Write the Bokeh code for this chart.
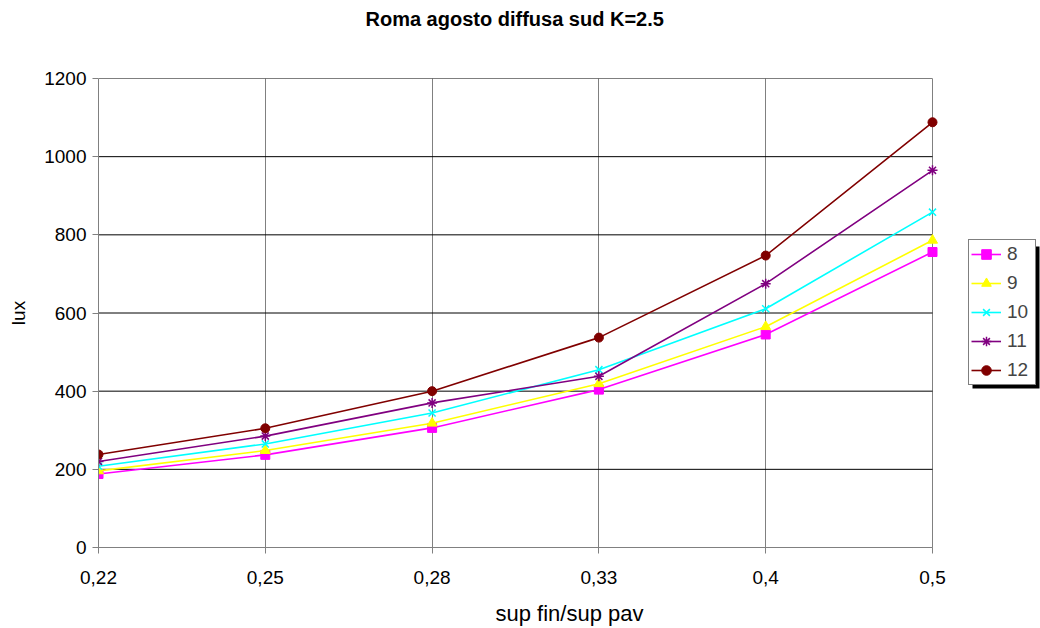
from bokeh.plotting import figure
from bokeh.models import (Range1d, Legend, LegendItem, FixedTicker, Title, LinearAxis,
                          BoxAnnotation, CustomLabelingPolicy)
from bokeh.embed import file_html
from bokeh.resources import INLINE

categories = ["0,22", "0,25", "0,28", "0,33", "0,4", "0,5"]
h8 = [188, 237, 306, 404, 545, 756]
h9 = [196, 248, 318, 419, 565, 786]
h10 = [208, 265, 344, 455, 611, 858]
h11 = [220, 285, 370, 438, 675, 965]
h12 = [238, 305, 400, 537, 747, 1088]
series_names = ["8", "9", "10", "11", "12"]
y_ticks = [0, 200, 400, 600, 800, 1000, 1200]

FONT = "Liberation Sans"
xs = list(range(len(categories)))
last = len(categories) - 1

# layout (pixels)
W, H = 1040, 628
LEFT, TOP, BOTTOM = 98, 78, 547
DATA_RIGHT = 932
x_end = last * (W - LEFT) / (DATA_RIGHT - LEFT)

p = figure(width=W, height=H, output_backend="svg", toolbar_location=None,
           x_range=Range1d(0, x_end), y_range=Range1d(0, 1200),
           min_border_left=LEFT, min_border_right=0, min_border_top=TOP,
           min_border_bottom=H - BOTTOM)
p.title = Title(text="Roma agosto diffusa sud K=2.5", align="left",
                text_font=FONT, text_font_size="20px", text_font_style="bold",
                text_color="black", offset=267)
p.outline_line_color = None
p.background_fill_color = "white"
p.border_fill_color = "white"

# invisible spacer above the plot area to lift the title (one tick, label hidden by policy)
top_spacer = LinearAxis(ticker=FixedTicker(ticks=[0]), axis_line_color=None,
                        major_tick_line_color=None, minor_tick_line_color=None,
                        major_tick_out=40, minor_tick_out=0, major_tick_in=0, minor_tick_in=0,
                        major_label_standoff=0, major_label_text_font_size="1px",
                        major_label_policy=CustomLabelingPolicy(
                            code="for (const i of indices) { indices.unset(i) }\nreturn indices"))
p.add_layout(top_spacer, "above")

xaxis = p.below[0]
yaxis = p.left[0]
xaxis.ticker = FixedTicker(ticks=xs)
xaxis.major_label_overrides = {i: c for i, c in enumerate(categories)}
xaxis.bounds = (0, last)
yaxis.ticker = FixedTicker(ticks=y_ticks)
for ax in (xaxis, yaxis):
    ax.axis_line_color = "#808080"
    ax.major_tick_line_color = "#808080"
    ax.major_tick_out = 6
    ax.major_tick_in = 0
    ax.minor_tick_line_color = None
    ax.major_label_text_font = FONT
    ax.major_label_text_font_size = "19px"
    ax.major_label_text_color = "black"
    ax.axis_label_text_font = FONT
    ax.axis_label_text_font_style = "normal"
    ax.axis_label_text_color = "black"
xaxis.axis_label_text_font_size = "22px"
yaxis.axis_label_text_font_size = "19px"
xaxis.major_label_standoff = 17
yaxis.major_label_standoff = 6
xaxis.axis_label = "sup fin/sup pav"
yaxis.axis_label = "lux"
xaxis.axis_label_standoff = 14
yaxis.axis_label_standoff = 12

p.xgrid.ticker = FixedTicker(ticks=xs)
p.xgrid.grid_line_color = "#808080"
p.ygrid.grid_line_color = None
# horizontal gridlines limited to the category span
p.segment(x0=[0] * len(y_ticks), x1=[last] * len(y_ticks), y0=y_ticks, y1=y_ticks,
          line_color="black", line_width=1)

colors = ["#FF00FF", "#FFFF00", "#00FFFF", "#800080", "#800000"]
markers = ["square", "triangle", "x", "asterisk", "circle"]
sizes = [9, 10, 10, 10, 9]
data = [h8, h9, h10, h11, h12]
items = []
for name, ys, c, m, s in zip(series_names, data, colors, markers, sizes):
    l = p.line(xs, ys, line_color=c, line_width=1.6)
    if m in ("x", "asterisk"):
        sc = p.scatter(xs, ys, marker=m, size=s, line_color=c, line_width=1.5)
    else:
        sc = p.scatter(xs, ys, marker=m, size=s, fill_color=c, line_color=c)
    items.append(LegendItem(label=name, renderers=[l, sc]))

LEG_X, LEG_Y, LEG_W, LEG_H = 870, 162, 68, 143
shadow = BoxAnnotation(left=LEG_X + 4, right=LEG_X + LEG_W + 3,
                       bottom=LEG_Y - 3, top=LEG_Y + LEG_H - 4,
                       left_units="screen", right_units="screen",
                       top_units="screen", bottom_units="screen",
                       fill_color="black", fill_alpha=1, line_color=None)
p.add_layout(shadow)

legend = Legend(items=items, location=(LEG_X, LEG_Y), orientation="vertical",
                label_text_font=FONT, label_text_font_size="19px",
                border_line_color="black", border_line_width=1.5,
                background_fill_color="white", background_fill_alpha=1,
                padding=2, spacing=5, margin=0, glyph_width=30, glyph_height=24,
                label_standoff=6, label_width=26, label_height=24)
p.add_layout(legend, "center")

open("out.html", "w").write(file_html(p, INLINE))
